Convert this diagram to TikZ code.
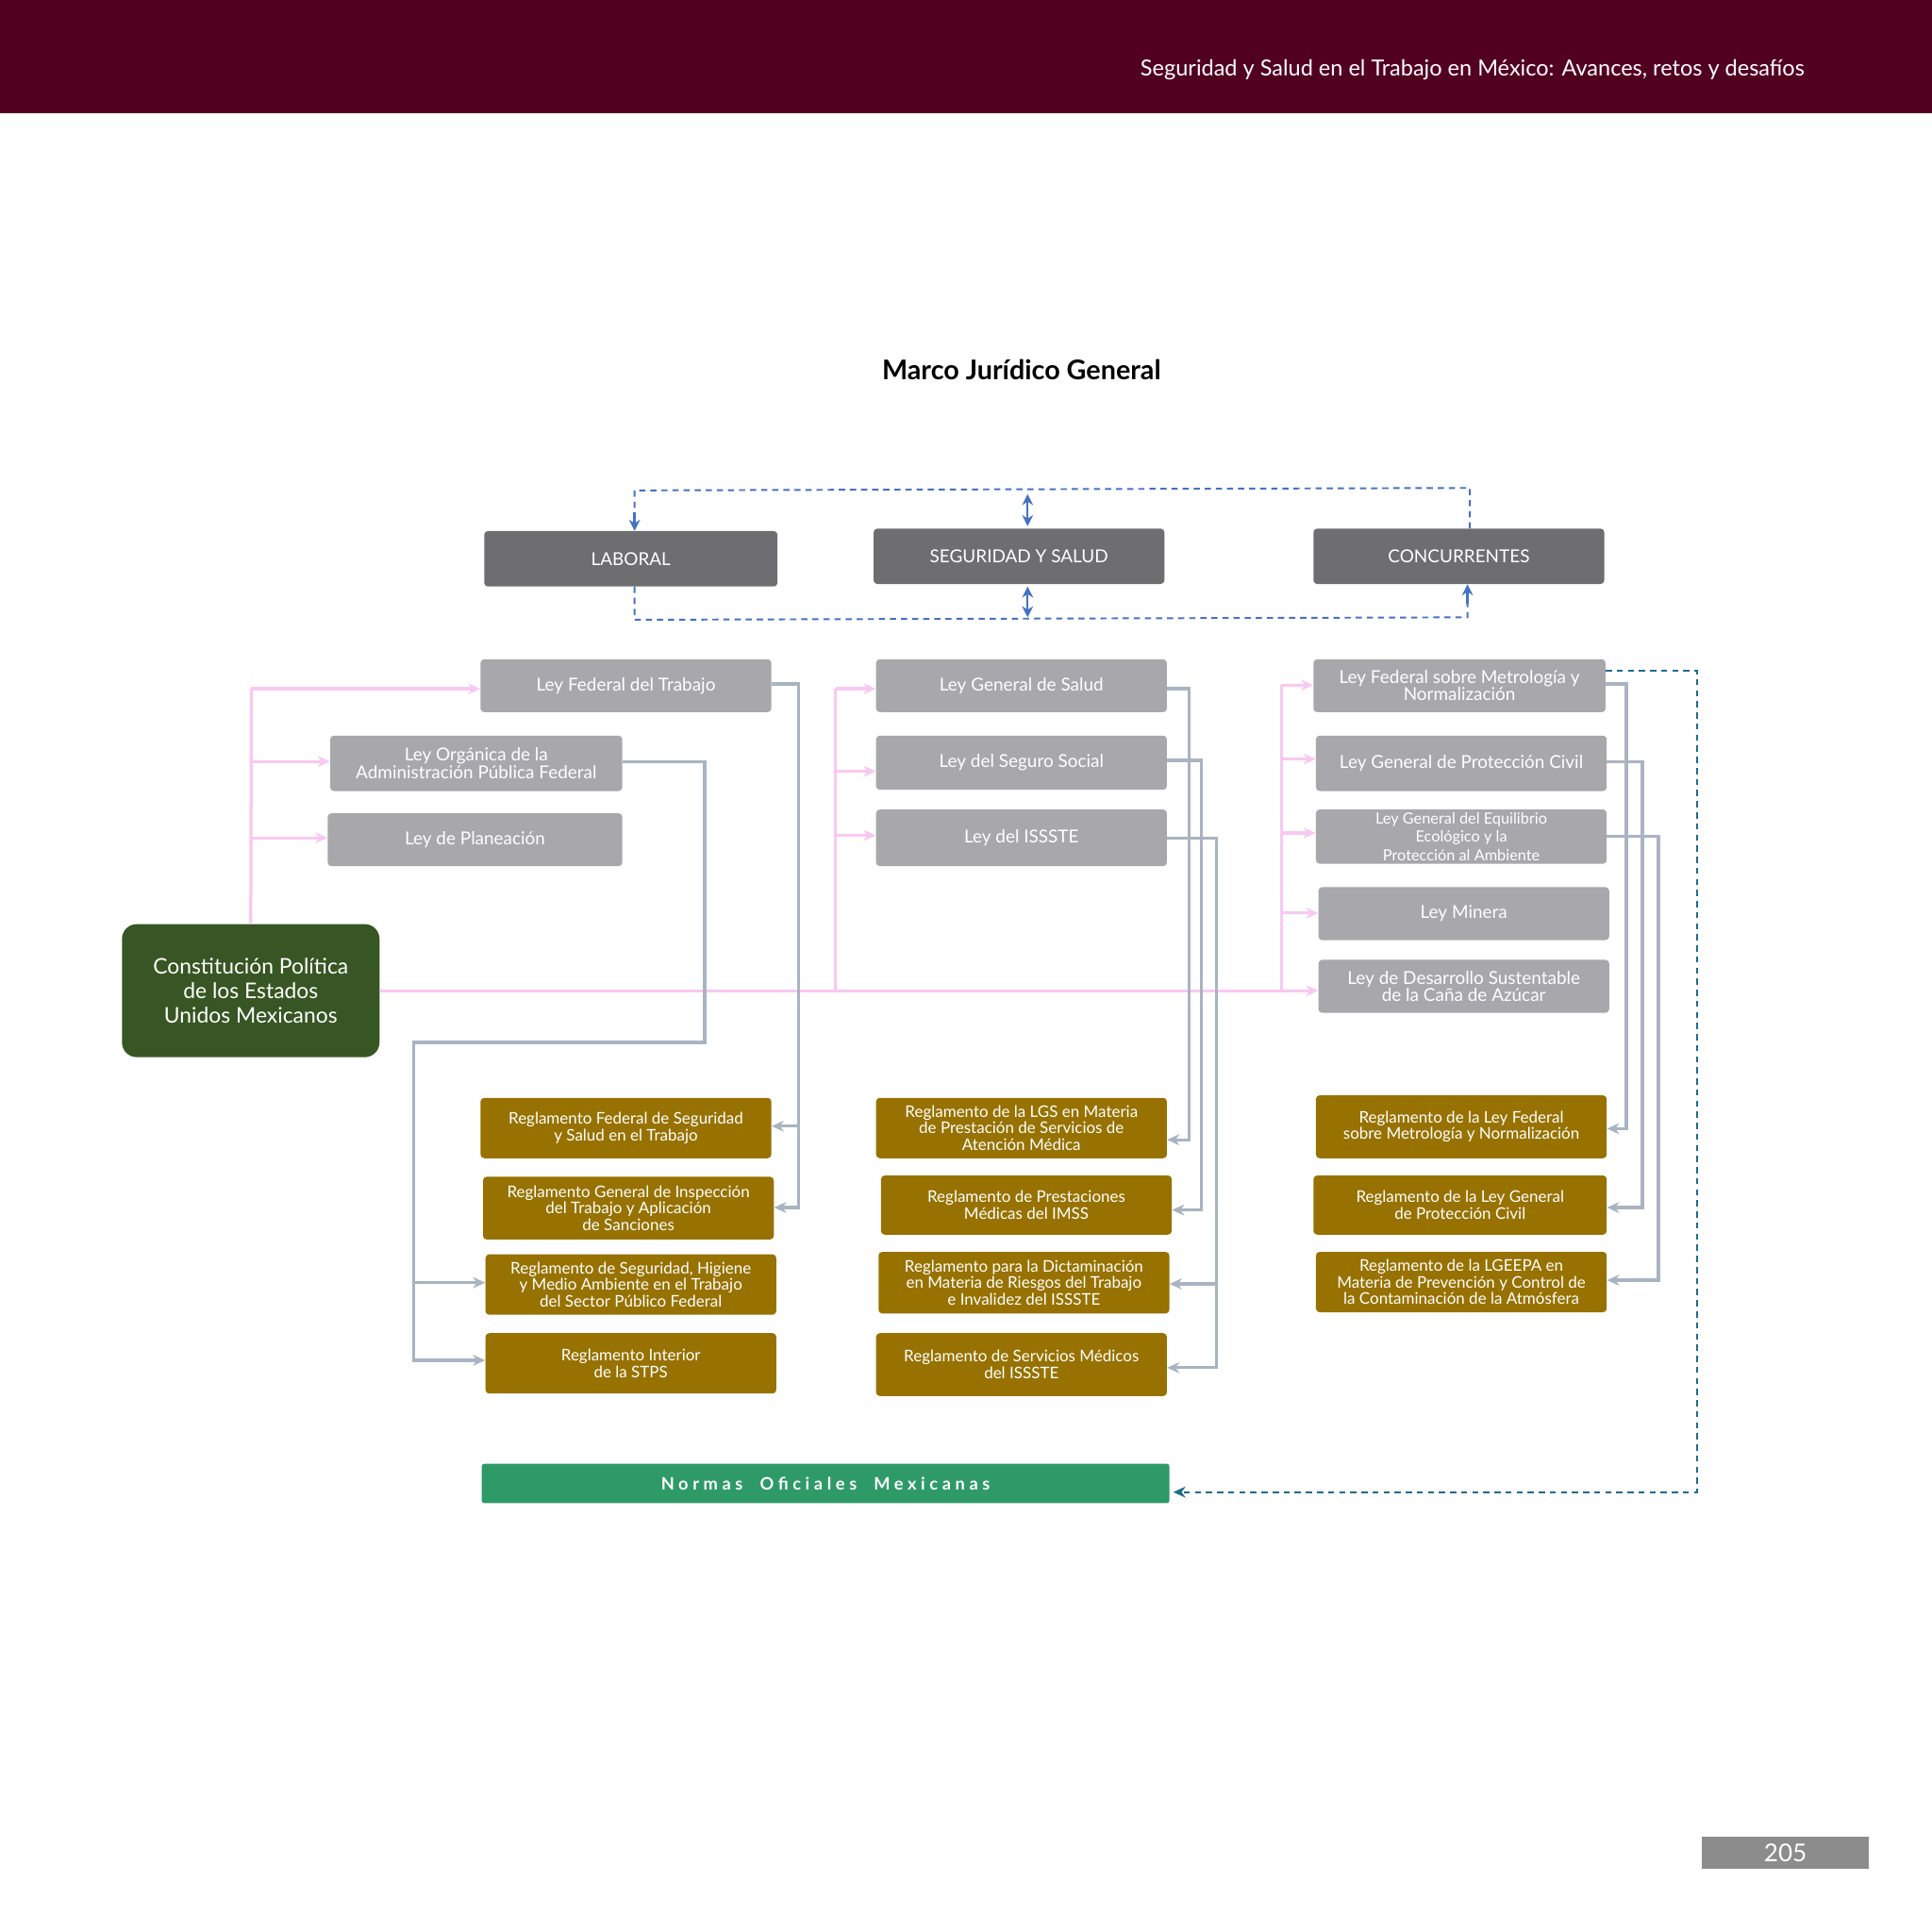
\documentclass[tikz,border=0pt]{standalone}
\usepackage{fontspec}
\setmainfont{Lato}
\usetikzlibrary{arrows.meta}
\definecolor{hdr}{HTML}{520020}
\definecolor{dg}{HTML}{6E6E70}
\definecolor{lg}{HTML}{A8A7AB}
\definecolor{gold}{HTML}{977200}
\definecolor{cgreen}{HTML}{375623}
\definecolor{ngreen}{HTML}{2E9A68}
\definecolor{pinkl}{HTML}{F9C8F2}
\definecolor{grayl}{HTML}{A9B4C2}
\definecolor{blued}{HTML}{4472C4}
\definecolor{teal}{HTML}{1F6B8E}
\begin{document}
\begin{tikzpicture}[x=1pt,y=-1pt,
 box/.style={draw=none,rounded corners=3pt,text=white,align=center,inner sep=0pt},
 cat/.style={box,fill=dg,font=\fontsize{14.5}{15}\selectfont},
 ley/.style={box,fill=lg,font=\fontsize{14.5}{14}\selectfont},
 reg/.style={box,fill=gold,font=\fontsize{13}{13.5}\selectfont},
 pk/.style={pinkl,line width=2.5pt},
 pka/.style={pk,-{Stealth[length=10pt,width=9pt]}},
 gl/.style={grayl,line width=2.5pt},
 gla/.style={gl,-{Stealth[length=10pt,width=9pt]}},
 bd/.style={blued,line width=1.5pt,dash pattern=on 5pt off 4pt},
 bar/.style={blued,line width=1.8pt,{Stealth[length=9pt,width=9pt]}-{Stealth[length=9pt,width=9pt]}},
 td/.style={teal,line width=1.5pt,dash pattern=on 5pt off 4pt}]
\useasboundingbox (0,0) rectangle (1568,1568);
\fill[hdr] (0,0) rectangle (1568,92);
\node[text=white,anchor=east,font=\fontsize{18}{18}\selectfont] (hd) at (1468,57) {Seguridad y Salud en el Trabajo en México: Avances, retos y desafíos};
\node[font=\fontsize{22}{22}\selectfont\bfseries] (tt) at (829,300) {Marco Jurídico General};
% categories
\node[cat,minimum width=238,minimum height=45] (lab) at (512,453.5) {LABORAL};
\node[cat,minimum width=236,minimum height=45] (seg) at (827,451.5) {SEGURIDAD Y SALUD};
\node[cat,minimum width=236,minimum height=45] (con) at (1184,451.5) {CONCURRENTES};
% laws
\node[ley,minimum width=236,minimum height=43] (lft) at (508,556.5) {Ley Federal del Trabajo};
\node[ley,minimum width=237,minimum height=45] (loa) at (386.5,619.5) {Ley Orgánica de la\\Administración Pública Federal};
\node[ley,minimum width=239,minimum height=43] (lpl) at (385.5,681.5) {Ley de Planeación};
\node[ley,minimum width=236,minimum height=43] (lgs) at (829,556.5) {Ley General de Salud};
\node[ley,minimum width=236,minimum height=44] (lss) at (829,619) {Ley del Seguro Social};
\node[ley,minimum width=236,minimum height=46] (lis) at (829,680) {Ley del ISSSTE};
\node[ley,minimum width=237,minimum height=43] (lme) at (1184.5,556.5) {Ley Federal sobre Metrología y\\Normalización};
\node[ley,minimum width=236,minimum height=45] (lpc) at (1186,619.5) {Ley General de Protección Civil};
\node[ley,minimum width=236,minimum height=44,font=\fontsize{12.5}{15}\selectfont] (leq) at (1186,679) {Ley General del Equilibrio\\Ecológico y la\\Protección al Ambiente};
\node[ley,minimum width=236,minimum height=43] (lmi) at (1188,741.5) {Ley Minera};
\node[ley,minimum width=236,minimum height=43] (lca) at (1188,800.5) {Ley de Desarrollo Sustentable\\de la Caña de Azúcar};
\node[box,fill=cgreen,rounded corners=12pt,minimum width=209,minimum height=108,font=\fontsize{17.5}{20}\selectfont] (cpe) at (203.5,804) {Constitución Política\\de los Estados\\Unidos Mexicanos};
% reglamentos
\node[reg,minimum width=236,minimum height=49] (r1) at (508,915.5) {Reglamento Federal de Seguridad\\y Salud en el Trabajo};
\node[reg,minimum width=236,minimum height=51] (r2) at (510,980.5) {Reglamento General de Inspección\\del Trabajo y Aplicación\\de Sanciones};
\node[reg,minimum width=236,minimum height=49] (r3) at (512,1042.5) {Reglamento de Seguridad, Higiene\\y Medio Ambiente en el Trabajo\\del Sector Público Federal};
\node[reg,minimum width=236,minimum height=49] (r4) at (512,1106.5) {Reglamento Interior\\de la STPS};
\node[reg,minimum width=236,minimum height=49] (r5) at (829,915.5) {Reglamento de la LGS en Materia\\de Prestación de Servicios de\\Atención Médica};
\node[reg,minimum width=236,minimum height=48] (r6) at (833,978) {Reglamento de Prestaciones\\Médicas del IMSS};
\node[reg,minimum width=236,minimum height=50] (r7) at (831,1041) {Reglamento para la Dictaminación\\en Materia de Riesgos del Trabajo\\e Invalidez del ISSSTE};
\node[reg,minimum width=236,minimum height=51] (r8) at (829,1107.5) {Reglamento de Servicios Médicos\\del ISSSTE};
\node[reg,minimum width=236,minimum height=51] (r9) at (1186,914.5) {Reglamento de la Ley Federal\\sobre Metrología y Normalización};
\node[reg,minimum width=238,minimum height=48] (r10) at (1185,978) {Reglamento de la Ley General\\de Protección Civil};
\node[reg,minimum width=236,minimum height=49] (r11) at (1186,1040.5) {Reglamento de la LGEEPA en\\Materia de Prevención y Control de\\la Contaminación de la Atmósfera};
\node[box,fill=ngreen,rounded corners=2pt,minimum width=558,minimum height=32,font=\fontsize{14}{14}\selectfont\bfseries\addfontfeatures{LetterSpace=25}] (nom) at (670,1204) {Normas\ \ Oficiales\ \ Mexicanas};
\node[fill=gray!90,text=white,minimum width=136,minimum height=26,inner sep=0pt,font=\fontsize{20}{20}\selectfont] (pg) at (1449,1504) {205};
% blue dashed
\coordinate (b1) at (515,398); \coordinate (b2) at (1193,396);
\draw[bd] (con.north -| b2) -- (b2) -- (b1) -- (515,418);
\draw[blued,line width=1.8pt,-{Stealth[length=9pt,width=9pt]}] (515,416) -- (lab.north -| b1);
\draw[bar] (834,401) -- (834,427);
\coordinate (b3) at (515,503); \coordinate (b4) at (1191,501);
\draw[bd] (lab.south -| b3) -- (b3) -- (b4) -- (1191,488);
\draw[blued,line width=1.8pt,-{Stealth[length=9pt,width=9pt]}] (1191,490) -- (con.south -| b4);
\draw[bar] (834,476) -- (834,501);
% pink
\coordinate (p1) at (204,559);
\draw[pk] (cpe.north) -- (p1);
\draw[pka] (p1) -- (lft.west |- p1);
\draw[pka] (204,618) -- (loa.west |- 0,618);
\draw[pka] (204,680) -- (lpl.west |- 0,680);
\draw[pka] (cpe.east |- 0,804) -- (lca.west |- 0,804);
\draw[pk] (678,804) -- (678,559);
\draw[pka] (678,559) -- (lgs.west |- 0,559);
\draw[pka] (678,626) -- (lss.west |- 0,626);
\draw[pka] (678,678) -- (lis.west |- 0,678);
\draw[pk] (1040,804) -- (1040,556);
\draw[pka] (1040,556) -- (lme.west |- 0,556);
\draw[pka] (1040,616) -- (lpc.west |- 0,616);
\draw[pka] (1040,676) -- (leq.west |- 0,676);
\draw[pka] (1040,741) -- (lmi.west |- 0,741);
% gray connectors
\draw[gla] (lft.east |- 0,555) -- (648,555) -- (648,914) -- (r1.east |- 0,914);
\draw[gla] (648,914) -- (648,980) -- (r2.east |- 0,980);
\draw[gla] (loa.east |- 0,618) -- (572,618) -- (572,846) -- (336,846) -- (336,1041) -- (r3.west |- 0,1041);
\draw[gla] (336,1041) -- (336,1104) -- (r4.west |- 0,1104);
\draw[gla] (lgs.east |- 0,559) -- (965,559) -- (965,925) -- (r5.east |- 0,925);
\draw[gla] (lss.east |- 0,617) -- (975,617) -- (975,982) -- (r6.east |- 0,982);
\draw[gla] (lis.east |- 0,680) -- (987,680) -- (987,1042) -- (r7.east |- 0,1042);
\draw[gla] (987,1042) -- (987,1110) -- (r8.east |- 0,1110);
\draw[gla] (lme.east |- 0,555) -- (1320,555) -- (1320,916) -- (r9.east |- 0,916);
\draw[gla] (lpc.east |- 0,618) -- (1333,618) -- (1333,980) -- (r10.east |- 0,980);
\draw[gla] (leq.east |- 0,679) -- (1346,679) -- (1346,1039) -- (r11.east |- 0,1039);
% teal dashed
\draw[td,-{Stealth[length=10pt,width=9pt]},shorten >=3pt] (lme.east |- 0,544) -- (1377,544) -- (1377,1211) -- (nom.east |- 0,1211);
\end{tikzpicture}
\end{document}
